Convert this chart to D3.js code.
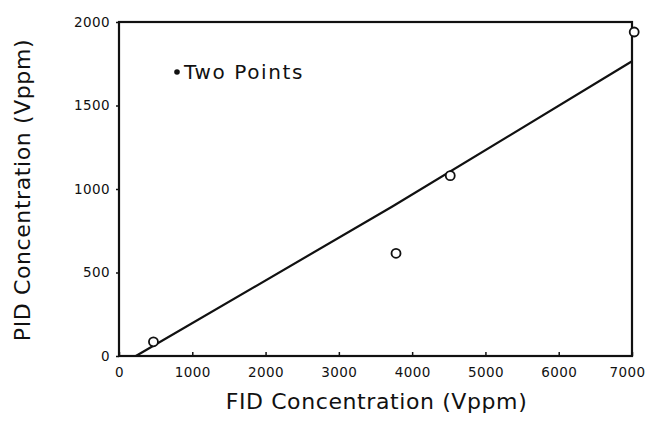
<!DOCTYPE html>
<html>
<head>
<meta charset="utf-8">
<script src="https://cdn.jsdelivr.net/npm/d3@7"></script>
<style>
  body { margin: 0; background: #fff; }
  text { font-family: "DejaVu Sans", sans-serif; fill: #111; }
  .tick text { font-size: 13.5px; letter-spacing: 0.4px; }
  .axisLabel { font-size: 22px; letter-spacing: 0.6px; }
  .legend { font-size: 20px; letter-spacing: 1.6px; }
</style>
</head>
<body>
<div id="chart"></div>
<script>
// values
const fidPoints = [470, 3780, 4520, 7030];
const pidPoints = [85, 615, 1080, 1940];
const fitFid = [230, 3730, 7000];
const fitPid = [0, 895, 1765];
const xTicks = [0, 1000, 2000, 3000, 4000, 5000, 6000, 7000];
const yTicks = [0, 500, 1000, 1500, 2000];

const width = 645, height = 423;
const margin = {top: 22, right: 13, bottom: 67, left: 119};

let svg = d3.select("#chart")
            .append("svg")
            .attr("width", width)
            .attr("height", height);

let x = d3.scaleLinear()
          .domain([0, 7000])
          .range([margin.left, width - margin.right]);

let y = d3.scaleLinear()
          .domain([0, 2000])
          .range([height - margin.bottom, margin.top]);

// frame
svg.append("rect")
   .attr("x", x(0))
   .attr("y", y(2000))
   .attr("width", x(7000) - x(0))
   .attr("height", y(0) - y(2000))
   .style("fill", "none")
   .style("stroke", "#111")
   .style("stroke-width", 2.2);

let xAxis = d3.axisBottom(x)
              .tickValues(xTicks)
              .tickSize(-4)
              .tickPadding(11)
              .tickFormat(d => d);

svg.append("g")
   .attr("class", "axis xAxis")
   .attr("transform", `translate(0, ${y(0)})`)
   .call(xAxis)
   .call(g => g.select(".domain").remove())
   // last label sits against the page edge, keep it inside
   .selectAll(".tick text")
   .filter(d => d == 7000)
   .style("text-anchor", "end")
   .attr("dx", 13);

let yAxis = d3.axisLeft(y)
              .tickValues(yTicks)
              .tickSize(3)
              .tickPadding(6)
              .tickFormat(d => d);

svg.append("g")
   .attr("class", "axis yAxis")
   .attr("transform", `translate(${x(0)}, 0)`)
   .call(yAxis)
   .call(g => g.select(".domain").remove());

svg.selectAll(".tick line").style("stroke", "#111").style("stroke-width", 1.5);

// fitted line
let line = d3.line()
             .x(d => x(d[0]))
             .y(d => y(d[1]));

svg.append("path")
   .datum(fitFid.map((f, i) => [f, fitPid[i]]))
   .attr("d", line)
   .style("fill", "none")
   .style("stroke", "#111")
   .style("stroke-width", 2.2);

// measured points
svg.selectAll("circle.pt")
   .data(fidPoints.map((f, i) => ({fid: f, pid: pidPoints[i]})))
   .enter()
   .append("circle")
   .attr("class", "pt")
   .attr("cx", d => x(d.fid))
   .attr("cy", d => y(d.pid))
   .attr("r", 4.5)
   .style("fill", "#fff")
   .style("stroke", "#111")
   .style("stroke-width", 1.8);

// legend
svg.append("circle")
   .attr("cx", 177)
   .attr("cy", 72)
   .attr("r", 2.8)
   .style("fill", "#111");

svg.append("text")
   .attr("class", "legend")
   .attr("x", 184)
   .attr("y", 79)
   .text("Two Points");

svg.append("text")
   .attr("class", "axisLabel")
   .attr("x", (x(0) + x(7000)) / 2 + 1)
   .attr("y", 409)
   .style("text-anchor", "middle")
   .text("FID Concentration (Vppm)");

svg.append("text")
   .attr("class", "axisLabel")
   .attr("transform", `translate(30, ${(y(0) + y(2000)) / 2 + 1}) rotate(-90)`)
   .style("text-anchor", "middle")
   .text("PID Concentration (Vppm)");
</script>
</body>
</html>
